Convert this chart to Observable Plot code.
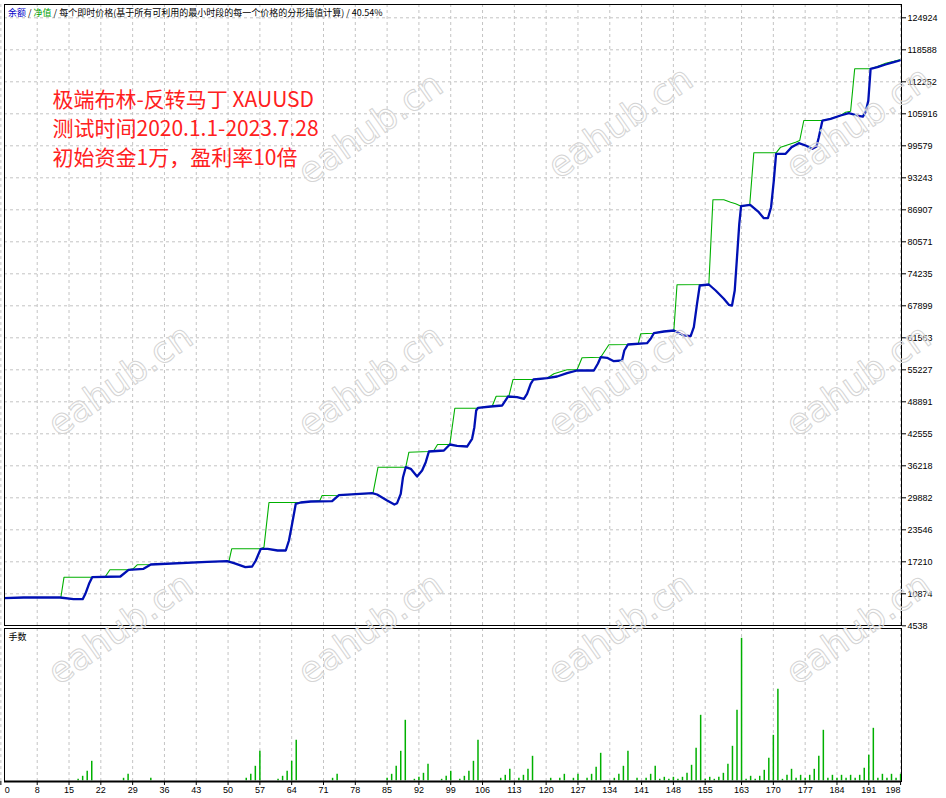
<!DOCTYPE html>
<html>
<head>
<meta charset="utf-8">
<script src="https://cdn.jsdelivr.net/npm/d3@7"></script>
<script src="https://cdn.jsdelivr.net/npm/@observablehq/plot@0.6"></script>
<style>
  body { margin: 0; background: white; }
  #chart { position: relative; width: 946px; height: 798px; overflow: hidden; }
  #chart svg { display: block; }
  #overlay { position: absolute; left: 0; top: 0; pointer-events: none; }
</style>
</head>
<body>
<div id="chart"></div>
<script>
// tick labels
const tradeTicks = [0, 8, 15, 22, 29, 36, 43, 50, 57, 64, 71, 78, 85, 92, 99, 106, 113, 120, 127, 134, 141, 148, 155, 163, 170, 177, 184, 191, 198];
const moneyTicks = [4538, 10874, 17210, 23546, 29882, 36218, 42555, 48891, 55227, 61563, 67899, 74235, 80571, 86907, 93243, 99579, 105916, 112252, 118588, 124924];

// 余额 (blue), [trade, value]
const balance = [
  [0, 10000], [5, 10140], [13, 10140], [16, 9805], [18, 9805], [18.6, 10874], [19.4, 12854], [20.1, 14161],
  [26.3, 14299], [28.1, 15626], [31.4, 15824], [33, 16675], [45.4, 17210], [49.8, 17329], [51.3, 16933],
  [53.8, 16141], [55.3, 16279], [56.1, 17467], [57.2, 19784], [58.7, 19784], [60.9, 19447], [62.7, 19447],
  [63.4, 21427], [64.1, 24734], [64.9, 28694], [66, 28951], [68.2, 29149], [72.9, 29209], [74.4, 30397],
  [81.7, 30793], [82.8, 30535], [85, 29347], [86.6, 28555], [87.2, 28813], [88, 30674], [88.5, 33961],
  [89.1, 35941], [90.2, 35624], [91.6, 34099], [92.7, 35287], [93.5, 36931], [94.2, 39049], [97.5, 39247],
  [98.8, 40435], [100.4, 40178], [102.6, 40039], [103.7, 41564], [104.2, 43861], [104.6, 47167], [105, 47702],
  [107.8, 47959], [110.3, 48157], [111.6, 49939], [113.6, 49801], [115.1, 49484], [115.8, 50474], [116.6, 52454],
  [117.2, 53305], [120.2, 53563], [122.4, 53899], [124.6, 54553], [126.8, 55087], [130.5, 55087], [131.4, 56473],
  [132, 57721], [133.4, 57602], [134.9, 56929], [136.7, 57067], [137.2, 59047], [138, 60235], [142.2, 60493],
  [143, 61364], [143.7, 62473], [145.9, 62809], [148.1, 63007], [150.3, 62017], [151.8, 61879], [152.5, 63661],
  [153.2, 68294], [153.8, 71917], [155.8, 72115], [157.3, 70927], [159.1, 69284], [160.2, 68096], [160.9, 67957],
  [161.5, 70927], [162, 77521], [162.5, 84134], [162.9, 87619], [164.9, 87896], [166.8, 86431], [167.9, 85243],
  [168.8, 85243], [169.5, 87421], [170.1, 92707], [170.6, 97994], [172.7, 97994], [174, 99301], [175.6, 100093],
  [177.1, 99637], [178.6, 98984], [179.5, 99439], [180, 101281], [180.8, 104587], [182.6, 104924], [184.8, 105577],
  [186.6, 106033], [188.5, 105577], [189.7, 105379], [190.3, 106231], [190.9, 108547], [191.4, 114824],
  [192.9, 115141], [194.7, 115675], [196.5, 116131], [197.8, 116467]
];

// 净值 (green)
const equity = [
  [0, 10000], [5, 10141], [13.2, 10141], [13.9, 14161], [20.1, 14161], [23, 14299], [24, 15626], [28.1, 15626],
  [29.1, 15824], [30, 16616], [33, 16675], [45.4, 17210], [50.2, 17329], [50.8, 19784], [57.2, 19784],
  [57.9, 20101], [59, 28951], [65.5, 28951], [68.2, 29149], [70.2, 29347], [70.7, 30337], [74.4, 30397],
  [81.9, 30793], [83, 35941], [89.1, 35941], [89.8, 38911], [94.2, 39049], [95.3, 39247], [96.1, 40435],
  [98.8, 40435], [99.9, 47623], [104.9, 47623], [105, 47702], [108.1, 47959], [109, 49999], [111.8, 49999],
  [112.7, 53305], [117.2, 53305], [120.2, 53563], [121.7, 54434], [124.6, 55226], [126.8, 55226], [127.9, 57602],
  [132, 57721], [133.8, 60176], [138, 60235], [140.3, 60493], [140.8, 62354], [143.7, 62473], [145.9, 62809],
  [148.1, 63007], [148.8, 72056], [155.8, 72115], [156.7, 88886], [159.1, 88886], [160.6, 88400], [161.7, 88094],
  [162.9, 87619], [164.8, 87896], [165.7, 98192], [170.6, 98192], [171.6, 99301], [174.9, 100291],
  [175.8, 100627], [176.7, 104587], [180.8, 104587], [182.6, 104924], [184.8, 105577], [185.9, 106231],
  [187, 106429], [187.9, 114824], [191.4, 114824], [192.9, 115300], [194.7, 115933], [196.5, 116300],
  [197.8, 116606]
];

// 手数 per trade
const lots = [
  [17, 0.03], [18, 0.09], [19, 0.19], [20, 0.39], [27, 0.05], [28, 0.13], [33, 0.05],
  [54, 0.05], [55, 0.13], [56, 0.29], [57, 0.59], [61, 0.03], [62, 0.09], [63, 0.19], [64, 0.39], [65, 0.81],
  [73, 0.05], [74, 0.13], [85, 0.05], [86, 0.13], [87, 0.29], [88, 0.59], [89, 1.21],
  [91, 0.03], [92, 0.07], [93, 0.15], [94, 0.33], [97, 0.03], [98, 0.09], [99, 0.19],
  [101, 0.03], [102, 0.09], [103, 0.19], [104, 0.39], [105, 0.81], [110, 0.05], [111, 0.11], [112, 0.23],
  [114, 0.05], [115, 0.11], [116, 0.23], [117, 0.49], [121, 0.05], [123, 0.05], [124, 0.13], [126, 0.05], [127, 0.13],
  [129, 0.05], [130, 0.13], [131, 0.27], [132, 0.55], [135, 0.05], [136, 0.13], [137, 0.29], [138, 0.59],
  [140, 0.05], [142, 0.05], [143, 0.13], [144, 0.29], [145, 0.03], [146, 0.07], [147, 0.03], [148, 0.07],
  [149, 0.03], [150, 0.07], [151, 0.15], [152, 0.31], [153, 0.65], [154, 1.31], [155, 0.03], [156, 0.07],
  [157, 0.03], [158, 0.07], [159, 0.15], [160, 0.33], [161, 0.69], [162, 1.41], [163, 2.85],
  [164, 0.03], [165, 0.09], [166, 0.03], [167, 0.09], [168, 0.21], [169, 0.45], [170, 0.91], [171, 1.83],
  [172, 0.03], [173, 0.11], [174, 0.23], [175, 0.05], [176, 0.11], [177, 0.05], [178, 0.11], [179, 0.23],
  [180, 0.49], [181, 1.01], [182, 0.05], [183, 0.11], [184, 0.05], [185, 0.11], [186, 0.05], [187, 0.11],
  [188, 0.05], [189, 0.11], [190, 0.25], [191, 0.51], [192, 1.05], [193, 0.05], [194, 0.13], [195, 0.05],
  [196, 0.13], [197, 0.05], [198, 0.13]
];

const titleParts = [["余额", "#0000c8"], [" / ", "#000"], ["净值", "#00a000"], [" / 每个即时价格(基于所有可利用的最小时段的每一个价格的分形插值计算) / 40.54%", "#000"]];
const noteLines = ["极端布林-反转马丁 XAUUSD", "测试时间2020.1.1-2023.7.28", "初始资金1万，盈利率10倍"];
const lotsLabel = "手数";
const watermark = "eahub.cn";

const axisFont = "Liberation Sans, Arial, sans-serif";
const cjkFont = "Noto Sans CJK SC, sans-serif";
const gridStyle = {stroke: "#c4c4c4", strokeOpacity: 1, strokeDasharray: "3,3"};
const xScale = {domain: [0.8, 198.2]};

const chart = document.getElementById("chart");

// Balance / equity panel.
const topPanel = Plot.plot({
  width: 946,
  height: 627,
  marginLeft: 4,
  marginRight: 45,
  marginTop: 4,
  marginBottom: 2,
  style: {fontFamily: axisFont, fontSize: "9px", color: "black", background: "white", overflow: "visible"},
  x: {...xScale, axis: null},
  y: {domain: [4538, 124924], range: [625.3, 17.3]},
  marks: [
    Plot.gridX(tradeTicks, gridStyle),
    Plot.gridY(moneyTicks.slice(1), gridStyle),
    Plot.line(equity, {x: d => d[0], y: d => d[1], stroke: "#00b000", strokeWidth: 1.1, clip: true}),
    Plot.line(balance, {x: d => d[0], y: d => d[1], stroke: "#0010b4", strokeWidth: 2.3, strokeLinejoin: "round", clip: true}),
    Plot.frame({stroke: "black"}),
    Plot.axisY(moneyTicks, {anchor: "right", tickSize: 4, tickPadding: 2, label: null, tickFormat: d => String(d)}),
    Plot.text([noteLines.join("\n")], {
      frameAnchor: "top-left", dx: 48, dy: 82, textAnchor: "start",
      fill: "#ff2020", fontSize: 21, lineHeight: 1.38, fontFamily: cjkFont
    })
  ]
});

// Title with coloured legend words.
const title = d3.select(topPanel).append("text")
  .attr("x", 8)
  .attr("y", 16)
  .attr("text-anchor", "start")
  .style("font-family", cjkFont)
  .style("font-size", "9px");
titleParts.forEach(([t, c]) => title.append("tspan").attr("fill", c).text(t));

// Lots panel.
const bottomPanel = Plot.plot({
  width: 946,
  height: 171,
  marginLeft: 4,
  marginRight: 45,
  marginTop: 1,
  marginBottom: 17,
  style: {fontFamily: axisFont, fontSize: "9px", color: "black", background: "white", overflow: "visible"},
  x: xScale,
  y: {domain: [0, 3], range: [153.3, 3.3], axis: null},
  marks: [
    Plot.gridX(tradeTicks, gridStyle),
    Plot.ruleX(lots, {x: d => d[0], y1: 0, y2: d => d[1], stroke: "#00b000", strokeWidth: 1.5}),
    Plot.frame({stroke: "black"}),
    Plot.ruleY([0], {stroke: "black", strokeWidth: 2, dy: 0.7}),
    Plot.axisX(tradeTicks, {tickSize: 4, tickPadding: 1, label: null, tickFormat: d => String(d)}),
    Plot.text([lotsLabel], {frameAnchor: "top-left", dx: 4, dy: 5, textAnchor: "start", fontSize: 9, fontFamily: cjkFont})
  ]
});

// Keep the first and last trade labels inside the frame.
const xLabels = d3.select(bottomPanel).selectAll('g[aria-label="x-axis tick label"] text');
xLabels.filter((d, i) => i === 0).attr("text-anchor", "start").attr("dx", 4);
xLabels.filter((d, i, n) => i === n.length - 1).attr("text-anchor", "end").attr("dx", 0);

chart.appendChild(topPanel);
chart.appendChild(bottomPanel);

// Watermark overlay.
const overlay = d3.select(chart).append("svg")
  .attr("id", "overlay")
  .attr("width", 946)
  .attr("height", 798);
const marks = [[370, 128], [620, 122], [858, 122], [120, 380], [370, 380], [620, 380], [858, 380], [120, 628], [370, 628], [620, 628], [858, 628]];
overlay.selectAll("text")
  .data(marks)
  .join("text")
  .attr("transform", d => `translate(${d[0]},${d[1]}) rotate(-35)`)
  .attr("text-anchor", "middle")
  .attr("dominant-baseline", "central")
  .attr("fill", "white")
  .attr("fill-opacity", 0.3)
  .attr("stroke", "#d4d4d4")
  .attr("stroke-width", 1)
  .style("font-family", "DejaVu Sans, sans-serif")
  .style("font-size", "36px")
  .text(watermark);
</script>
</body>
</html>
